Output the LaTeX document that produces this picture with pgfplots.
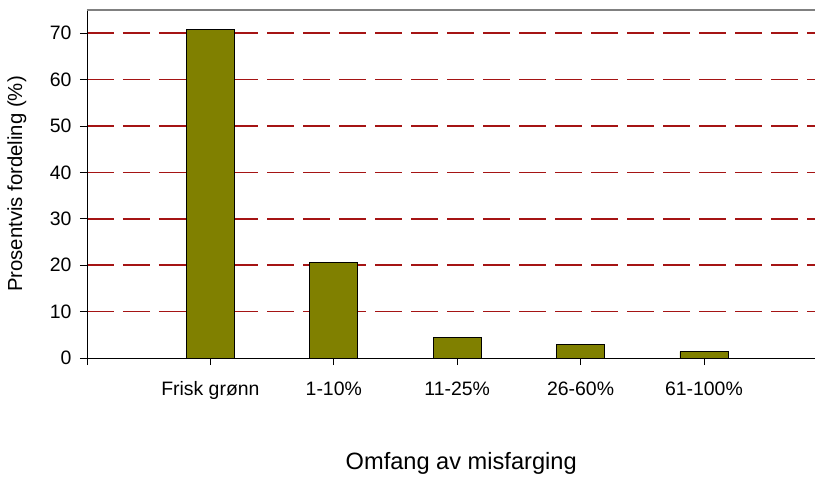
\documentclass[border=0pt]{standalone}
\usepackage{fontspec}
\setmainfont{Liberation Sans}
\usepackage{pgfplots}
\pgfplotsset{compat=1.18}
\definecolor{barolive}{RGB}{128,128,0}
\definecolor{gridred}{RGB}{165,20,20}
\begin{document}
\begin{tikzpicture}
\begin{axis}[
  name=a,
  at={(0,0)}, anchor=south west,
  scale only axis,
  width=728bp, height=348bp,
  xmin=0, xmax=5.9,
  ymin=0, ymax=75,
  axis x line=bottom, axis y line=left,
  axis line style={black, line width=0.9pt, -},
  xtick={0,1,2,3,4,5},
  xticklabels={,Frisk grønn,1-10\%,11-25\%,26-60\%,61-100\%},
  ytick={10,20,30,40,50,60,70},
  extra y ticks={0},
  extra y tick style={grid=none},
  tick align=outside,
  major tick length=7bp,
  tick style={black, line width=0.9pt},
  x tick label style={font=\fontsize{19.5}{22}\selectfont, anchor=north, yshift=-13bp},
  y tick label style={font=\fontsize{19.5}{22}\selectfont, xshift=-5bp},
  /pgf/number format/assume math mode=true,
  ymajorgrids,
  grid style={gridred, line width=1.5bp, dash pattern=on 27bp off 9bp},
  xlabel={Omfang av misfarging},
  xlabel style={font=\fontsize{23.7}{26}\selectfont, at={(axis description cs:0.514,-0.302)}, anchor=center},
  ylabel={Prosentvis fordeling (\%)},
  ylabel style={font=\fontsize{20.4}{23}\selectfont, at={(axis description cs:-0.0962,0.5)}, anchor=center},
  clip=false,
]
\addplot[ybar, bar width=48bp, fill=barolive, draw=black, line width=0.9pt]
  coordinates {(1,70.8) (2,20.6) (3,4.4) (4,3.0) (5,1.4)};
\draw[gray, line width=1.1pt] (rel axis cs:0,1) -- (rel axis cs:1,1);
\end{axis}
\pgfresetboundingbox
\path[use as bounding box] (-87bp,-122bp) rectangle (728bp,358bp);
\end{tikzpicture}
\end{document}
